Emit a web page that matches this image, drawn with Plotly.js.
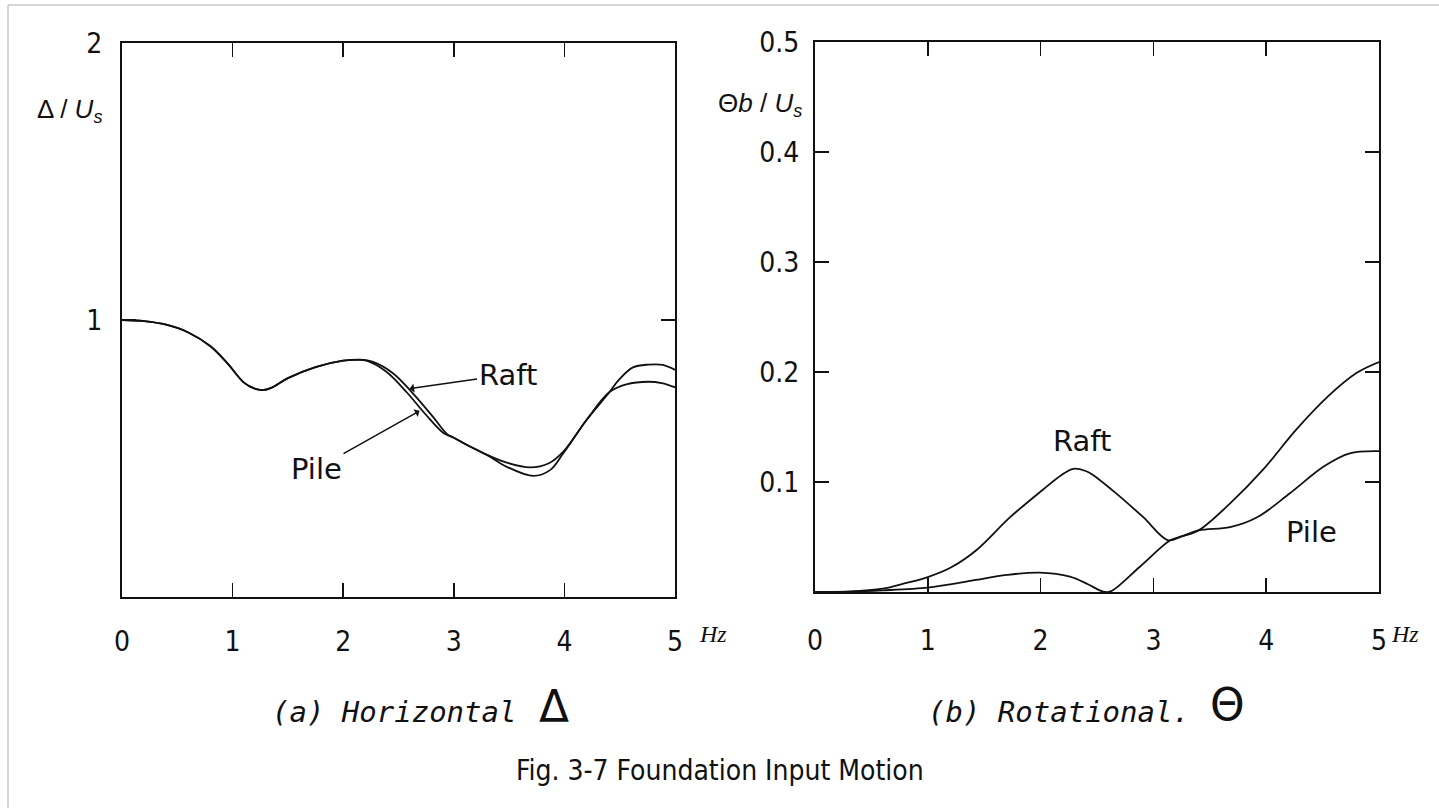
<!DOCTYPE html>
<html>
<head>
<meta charset="utf-8">
<script src="https://cdn.plot.ly/plotly-3.0.1.min.js"></script>
<style>
  html, body { margin: 0; padding: 0; background: #fff; }
  #chart { width: 1439px; height: 808px; }
</style>
</head>
<body>
<div id="chart"></div>
<script>
// ---- Data ----
// (a) Horizontal  Δ/Us  vs frequency (Hz)
const horizRaftHz = [0, 0.2, 0.4, 0.6, 0.8, 0.95, 1.1, 1.2, 1.27, 1.35, 1.5, 1.75, 2.0, 2.15, 2.27, 2.45, 2.63, 2.81, 2.94, 3.0, 3.12, 3.3, 3.48, 3.69, 3.86, 3.99, 4.2, 4.41, 4.49, 4.62, 4.76, 4.89, 5.0];
const horizRaftVal = [1.0, 0.996, 0.983, 0.955, 0.905, 0.845, 0.775, 0.752, 0.747, 0.755, 0.79, 0.83, 0.853, 0.857, 0.849, 0.808, 0.735, 0.651, 0.588, 0.575, 0.549, 0.513, 0.485, 0.468, 0.483, 0.525, 0.639, 0.741, 0.783, 0.829, 0.839, 0.838, 0.82];
const horizPileHz = [0, 0.2, 0.4, 0.6, 0.8, 0.95, 1.1, 1.2, 1.27, 1.35, 1.5, 1.75, 2.0, 2.12, 2.21, 2.39, 2.57, 2.75, 2.91, 3.0, 3.12, 3.3, 3.48, 3.72, 3.87, 3.99, 4.2, 4.41, 4.56, 4.76, 4.88, 5.0];
const horizPileVal = [1.0, 0.996, 0.983, 0.955, 0.905, 0.845, 0.775, 0.752, 0.747, 0.755, 0.79, 0.83, 0.853, 0.856, 0.853, 0.813, 0.741, 0.657, 0.591, 0.575, 0.549, 0.513, 0.47, 0.437, 0.458, 0.519, 0.639, 0.741, 0.768, 0.777, 0.772, 0.757];

// (b) Rotational  Θb/Us  vs frequency (Hz)
const rotRaftHz = [0, 0.3, 0.6, 0.8, 1.0, 1.2, 1.43, 1.73, 2.02, 2.18, 2.29, 2.4, 2.47, 2.67, 2.91, 3.13, 3.25, 3.4, 3.68, 3.97, 4.27, 4.55, 4.8, 5.0];
const rotRaftVal = [0, 0.0004, 0.003, 0.008, 0.0136, 0.022, 0.038, 0.068, 0.093, 0.106, 0.112, 0.11, 0.106, 0.0897, 0.068, 0.047, 0.0505, 0.056, 0.0806, 0.111, 0.148, 0.178, 0.199, 0.209];
const rotPileHz = [0, 0.3, 0.6, 1.0, 1.2, 1.43, 1.7, 1.99, 2.26, 2.42, 2.55, 2.62, 2.88, 3.15, 3.25, 3.4, 3.68, 3.92, 4.21, 4.51, 4.74, 5.0];
const rotPileVal = [0, 0.0003, 0.0015, 0.004, 0.007, 0.011, 0.0155, 0.0176, 0.014, 0.007, 0.0005, 0.0005, 0.023, 0.047, 0.0505, 0.056, 0.059, 0.068, 0.0897, 0.114, 0.126, 0.128];

// Tick labels
const freqTicks = [0, 1, 2, 3, 4, 5];
const freqTickText = ['0', '1', '2', '3', '4', '5'];
const horizTicks = [1, 2];
const horizTickText = ['1', '2'];
const rotTicks = [0.1, 0.2, 0.3, 0.4, 0.5];
const rotTickText = ['0.1', '0.2', '0.3', '0.4', '0.5'];

// Texts
const seriesNames = ['Raft', 'Pile'];
const freqUnit = 'Hz';
const horizYTitle = 'Δ / <i>U</i><sub><i>s</i></sub>';
const rotYTitle = 'Θ<i>b</i> / <i>U</i><sub><i>s</i></sub>';
const subA = '(a) Horizontal';
const subB = '(b) Rotational.';
const caption = 'Fig. 3-7 Foundation Input Motion';

// ---- Styling ----
const W = 1439, H = 808;
const px = v => v / W;           // paper x from pixel
const py = v => 1 - v / H;       // paper y from pixel
const INK = '#111';
const tickFont = { family: "'Liberation Sans Narrow', 'DejaVu Sans Condensed', 'Liberation Sans', sans-serif", size: 28, color: INK };
const labelFont = { family: "'DejaVu Sans', 'Liberation Sans', sans-serif", size: 29, color: INK };
const lineStyle = { color: INK, width: 1.8, shape: 'spline', smoothing: 1 };

function baseAxis(extra) {
  return Object.assign({
    showline: true, linecolor: INK, linewidth: 2,
    mirror: 'ticks', ticks: 'inside', ticklen: 14, tickwidth: 1.6, tickcolor: INK,
    showgrid: false, zeroline: false, tickmode: 'array', tickfont: tickFont,
    fixedrange: true
  }, extra);
}

const traces = [
  { x: horizRaftHz, y: horizRaftVal, xaxis: 'x', yaxis: 'y', mode: 'lines', line: lineStyle, name: seriesNames[0], hoverinfo: 'skip' },
  { x: horizPileHz, y: horizPileVal, xaxis: 'x', yaxis: 'y', mode: 'lines', line: lineStyle, name: seriesNames[1], hoverinfo: 'skip' },
  { x: rotRaftHz, y: rotRaftVal, xaxis: 'x2', yaxis: 'y2', mode: 'lines', line: lineStyle, name: seriesNames[0], hoverinfo: 'skip' },
  { x: rotPileHz, y: rotPileVal, xaxis: 'x2', yaxis: 'y2', mode: 'lines', line: lineStyle, name: seriesNames[1], hoverinfo: 'skip' }
];

const layout = {
  width: W, height: H,
  margin: { l: 0, r: 0, t: 0, b: 0 },
  paper_bgcolor: '#fff', plot_bgcolor: '#fff',
  showlegend: false,
  xaxis: baseAxis({ domain: [px(122), px(675)], range: [0, 5], anchor: 'y', tickvals: freqTicks, ticktext: freqTickText, ticklabelstandoff: 18 }),
  yaxis: baseAxis({ domain: [py(597), py(43)], range: [0, 2], anchor: 'x', tickvals: horizTicks, ticktext: horizTickText, ticklabelstandoff: 12 }),
  xaxis2: baseAxis({ domain: [px(815), px(1379)], range: [0, 5], anchor: 'y2', tickvals: freqTicks, ticktext: freqTickText, ticklabelstandoff: 22 }),
  yaxis2: baseAxis({ domain: [py(592), py(42)], range: [0, 0.5], anchor: 'x2', tickvals: rotTicks, ticktext: rotTickText, ticklabelstandoff: 8 }),
  shapes: [
    { type: 'line', xref: 'paper', yref: 'paper', x0: px(8), x1: 1, y0: py(5), y1: py(5), line: { color: '#c8c8c8', width: 1.5 } },
    { type: 'line', xref: 'paper', yref: 'paper', x0: px(8), x1: px(8), y0: py(5), y1: 0, line: { color: '#c8c8c8', width: 1.5 } }
  ],
  annotations: [
    // series labels, panel (a)
    { xref: 'x', yref: 'y', x: 2.6, y: 0.752, text: seriesNames[0], font: labelFont, showarrow: true,
      ax: 98, ay: -14, arrowhead: 1, arrowsize: 1, arrowwidth: 1.5, arrowcolor: INK, standoff: 0 },
    { xref: 'x', yref: 'y', x: 2.69, y: 0.672, text: seriesNames[1], font: labelFont, showarrow: true,
      ax: -103, ay: 58, arrowhead: 1, arrowsize: 1, arrowwidth: 1.5, arrowcolor: INK, standoff: 0 },
    // series labels, panel (b)
    { xref: 'x2', yref: 'y2', x: 2.37, y: 0.137, text: seriesNames[0], font: labelFont, showarrow: false },
    { xref: 'x2', yref: 'y2', x: 4.40, y: 0.0545, text: seriesNames[1], font: labelFont, showarrow: false },
    // axis titles
    { xref: 'paper', yref: 'paper', x: px(104), y: py(110), xanchor: 'right', yanchor: 'middle', showarrow: false,
      text: horizYTitle, font: { family: "'Liberation Sans', 'DejaVu Sans', sans-serif", size: 26, color: INK } },
    { xref: 'paper', yref: 'paper', x: px(804), y: py(104), xanchor: 'right', yanchor: 'middle', showarrow: false,
      text: rotYTitle, font: { family: "'Liberation Sans', 'DejaVu Sans', sans-serif", size: 26, color: INK } },
    { xref: 'paper', yref: 'paper', x: px(713), y: py(634), xanchor: 'center', yanchor: 'middle', showarrow: false,
      text: '<i>' + freqUnit + '</i>', font: { family: "'Liberation Serif', 'DejaVu Serif', serif", size: 24, color: INK } },
    { xref: 'paper', yref: 'paper', x: px(1405), y: py(634), xanchor: 'center', yanchor: 'middle', showarrow: false,
      text: '<i>' + freqUnit + '</i>', font: { family: "'Liberation Serif', 'DejaVu Serif', serif", size: 24, color: INK } },
    // sub-captions
    { xref: 'paper', yref: 'paper', x: px(518), y: py(712), xanchor: 'right', yanchor: 'middle', showarrow: false,
      text: '<i>' + subA + '</i>', font: { family: "'DejaVu Sans Mono', 'Liberation Mono', monospace", size: 29, color: INK } },
    { xref: 'paper', yref: 'paper', x: px(554), y: py(706), xanchor: 'center', yanchor: 'middle', showarrow: false,
      text: 'Δ', font: { family: "'DejaVu Sans', sans-serif", size: 44, color: INK } },
    { xref: 'paper', yref: 'paper', x: px(1192), y: py(712), xanchor: 'right', yanchor: 'middle', showarrow: false,
      text: '<i>' + subB + '</i>', font: { family: "'DejaVu Sans Mono', 'Liberation Mono', monospace", size: 29, color: INK } },
    { xref: 'paper', yref: 'paper', x: px(1227), y: py(704), xanchor: 'center', yanchor: 'middle', showarrow: false,
      text: 'Θ', font: { family: "'DejaVu Sans', sans-serif", size: 44, color: INK } },
    // figure caption
    { xref: 'paper', yref: 'paper', x: px(720), y: py(770), xanchor: 'center', yanchor: 'middle', showarrow: false,
      text: caption, font: { family: "'Liberation Sans Narrow', 'DejaVu Sans Condensed', 'Liberation Sans', sans-serif", size: 28, color: INK } }
  ]
};

Plotly.newPlot('chart', traces, layout, { staticPlot: true, displayModeBar: false });
</script>
</body>
</html>
